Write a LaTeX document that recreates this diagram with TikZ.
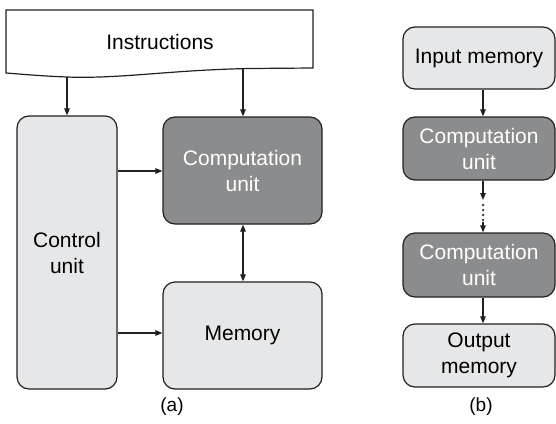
\documentclass[tikz,border=0pt]{standalone}
\usepackage{fontspec}
\setmainfont{Liberation Sans}
\usetikzlibrary{arrows.meta}
\definecolor{lightfill}{HTML}{E6E7E8}
\definecolor{darkfill}{HTML}{8B8C8E}
\definecolor{inkline}{HTML}{231F20}
\tikzset{
  unitbox/.style={draw=inkline, line width=1.2pt, rounded corners=12pt,
    align=center, inner sep=0pt, font=\fontsize{21}{26}\selectfont},
  lightbox/.style={unitbox, fill=lightfill, text=black},
  darkbox/.style={unitbox, fill=darkfill, text=white},
  flow/.style={draw=inkline, line width=1.2pt, -{Triangle[length=7pt,width=5.5pt]}},
  biflow/.style={draw=inkline, line width=1.2pt, {Triangle[length=7pt,width=5.5pt]}-{Triangle[length=7pt,width=5.5pt]}},
  dotlink/.style={draw=inkline, line width=2.5pt, line cap=round, dash pattern=on 0pt off 5pt},
  caption/.style={font=\fontsize{19}{22}\selectfont}
}
\begin{document}
\begin{tikzpicture}[x=1pt,y=-1pt]
\useasboundingbox (0,0) rectangle (556,423);

% (a) instruction banner with wavy bottom edge
\draw[draw=inkline, line width=1.2pt, fill=white]
  (6,10) -- (313,10) -- (313,68) -- (250,68.5)
  .. controls (170,70) and (120,79) .. (67,77)
  .. controls (40,76) and (20,74) .. (6,73) -- cycle;
\node[font=\fontsize{21}{26}\selectfont] (instr) at (160,42) {Instructions};
\coordinate (insL) at (67,77);
\coordinate (insR) at (243,68.5);

% (a) units
\node[lightbox, minimum width=100, minimum height=273] (ctrl) at (67,252.5) {Control\\unit};
\node[darkbox, minimum width=159, minimum height=107] (comp) at (242.5,170.5) {Computation\\unit};
\node[lightbox, minimum width=159, minimum height=107] (mem) at (242.5,335.5) {Memory};

\draw[flow] (insL) -- (ctrl.north);
\draw[flow] (insR) -- (insR |- comp.north);
\draw[flow] (ctrl.east |- 0,171) -- (comp.west |- 0,171);
\draw[flow] (ctrl.east |- 0,333) -- (mem.west |- 0,333);
\draw[biflow] (comp.south -| insR) -- (mem.north -| insR);

\node[caption] (capa) at (172,407) {(a)};

% (b) pipeline
\node[lightbox, minimum width=152, minimum height=62] (inmem) at (479,58) {Input memory};
\node[darkbox, minimum width=152, minimum height=63] (compA) at (479,148.5) {Computation\\unit};
\node[darkbox, minimum width=152, minimum height=64] (compB) at (479,265) {Computation\\unit};
\node[lightbox, minimum width=152, minimum height=63] (outmem) at (479,355.5) {Output\\memory};

\coordinate (dotTop) at (483,200);
\coordinate (dotBot) at (483,222);
\draw[flow] ([xshift=4pt]inmem.south) -- ([xshift=4pt]compA.north);
\draw[flow] ([xshift=4pt]compA.south) -- (dotTop);
\draw[dotlink] ([yshift=-5pt]dotTop) -- (dotBot);
\draw[flow] (dotBot) -- ([xshift=4pt]compB.north);
\draw[flow] ([xshift=4pt]compB.south) -- ([xshift=4pt]outmem.north);

\node[caption] (capb) at (481,407) {(b)};
\end{tikzpicture}
\end{document}
